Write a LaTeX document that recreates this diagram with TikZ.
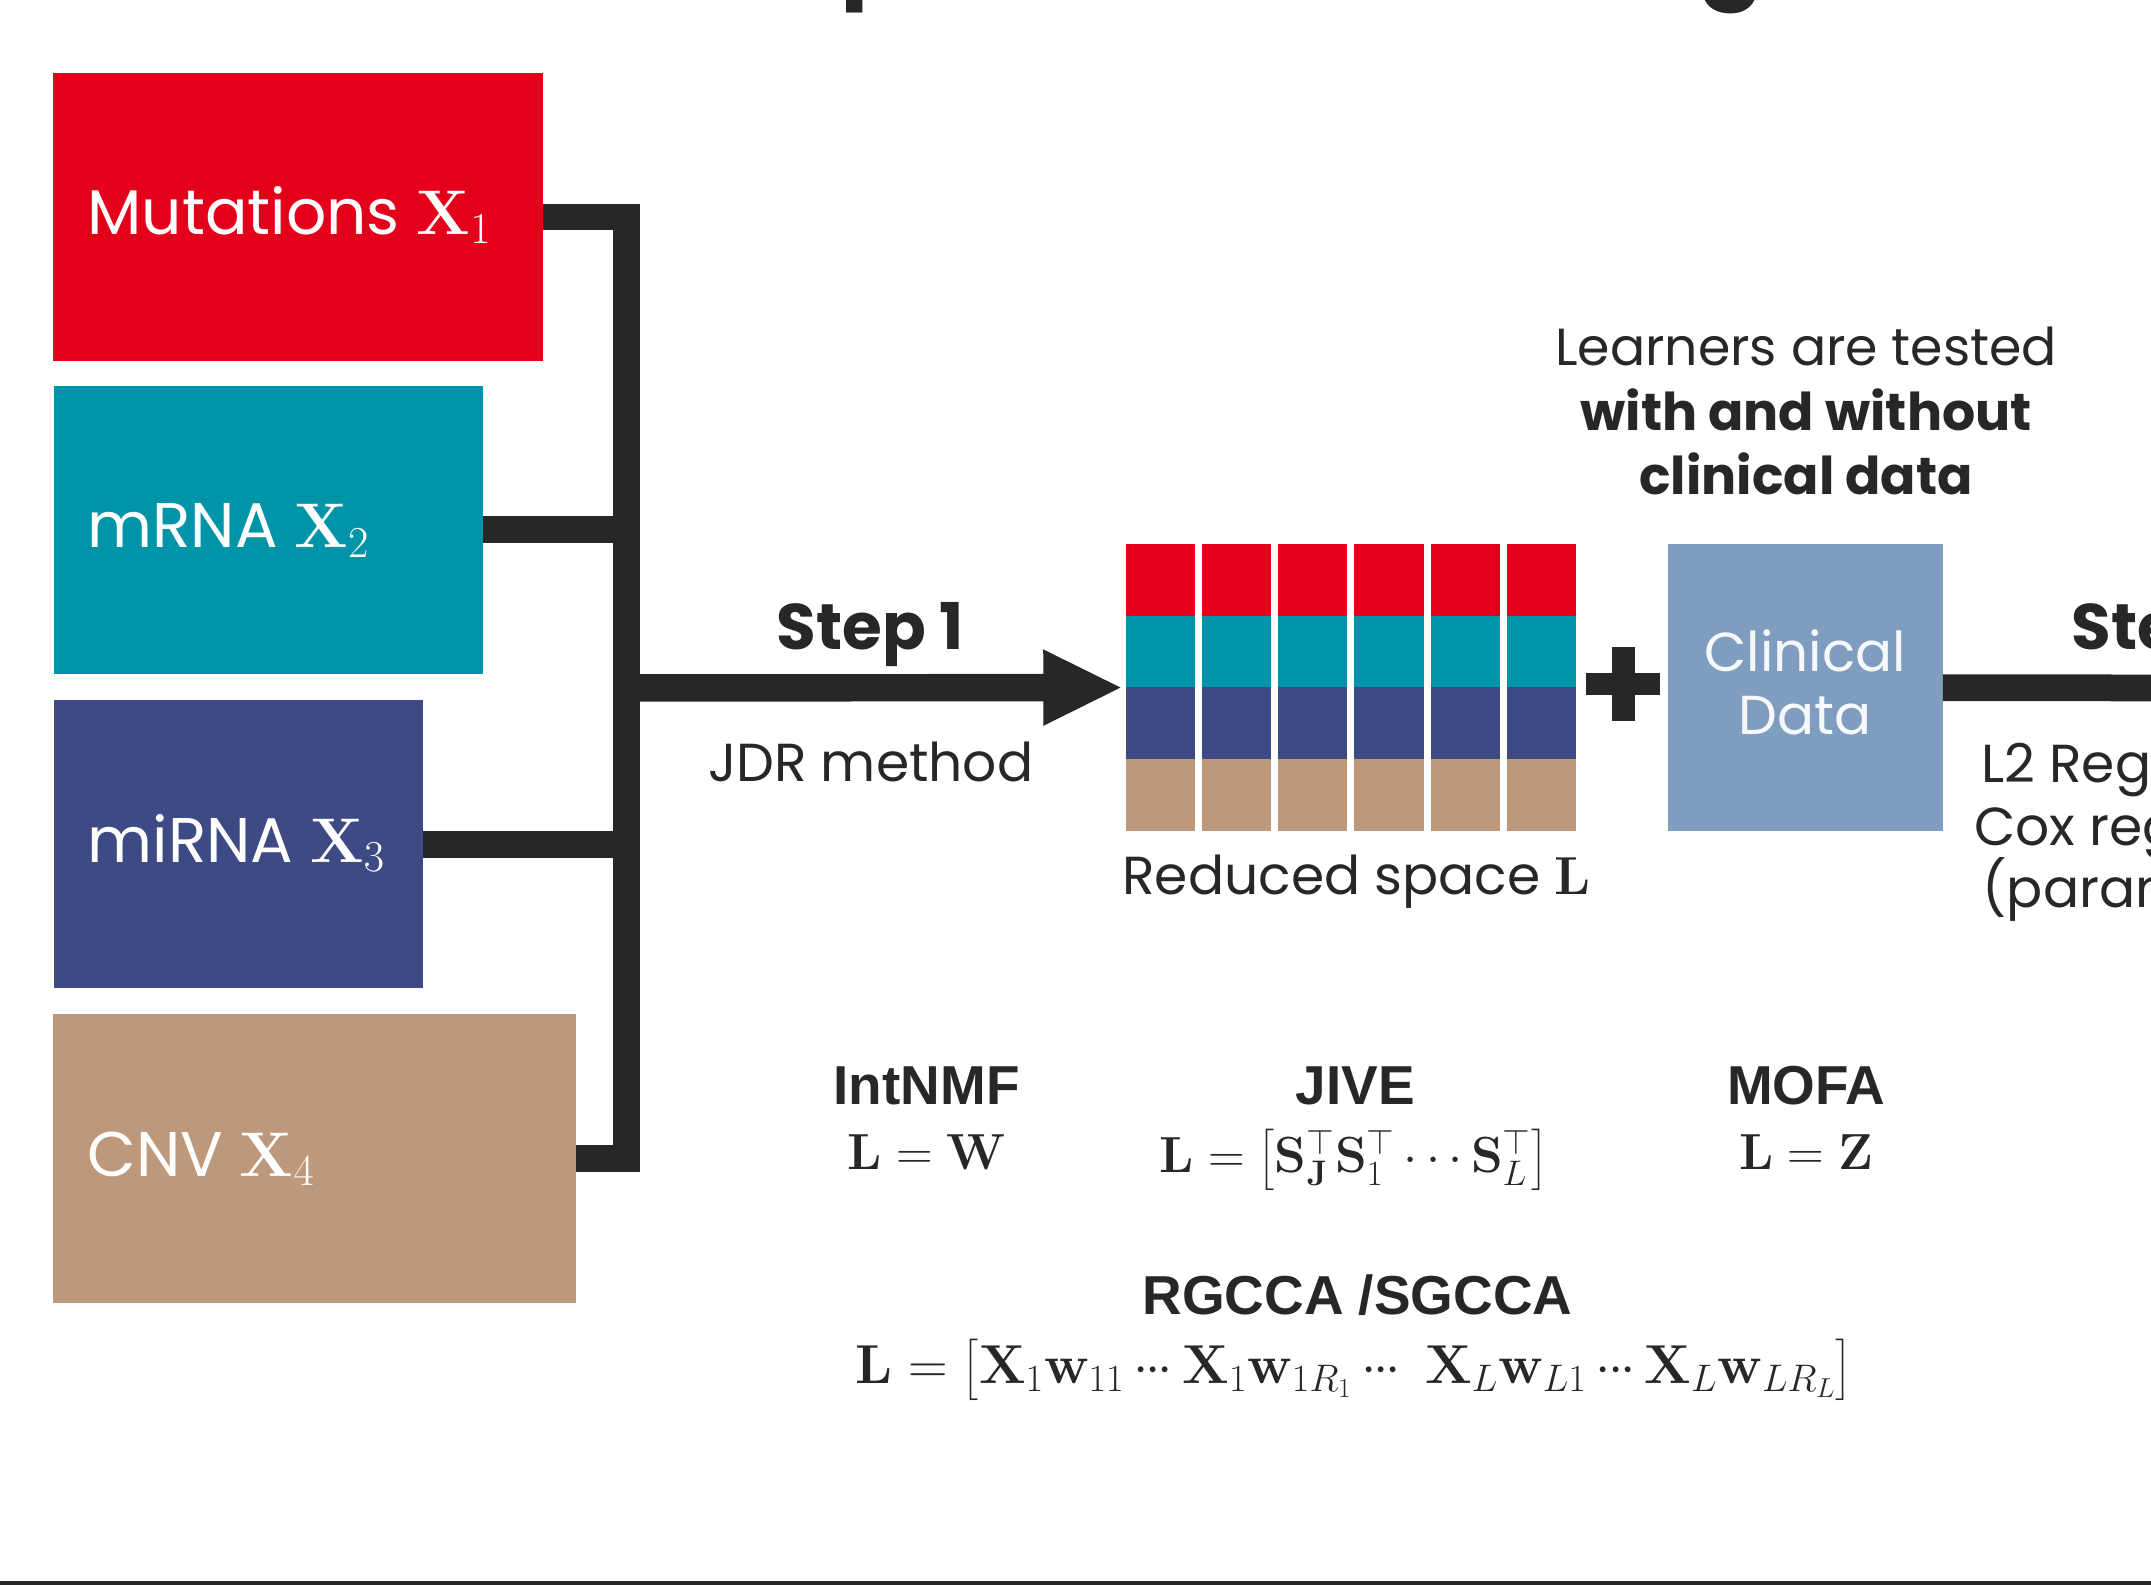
\RequirePackage{fix-cm}
\documentclass[tikz,border=0pt]{standalone}
\usepackage{amsmath}
\usepackage[no-math]{fontspec}
\setmainfont{Poppins}
\newfontfamily\headfont{Liberation Sans}
\usetikzlibrary{arrows.meta,calc}

\definecolor{omred}{HTML}{E4001B}
\definecolor{omteal}{HTML}{0094A8}
\definecolor{omnavy}{HTML}{3E4A84}
\definecolor{omtan}{HTML}{BD987A}
\definecolor{clin}{HTML}{7F9DBF}
\definecolor{clintext}{HTML}{F6F8FB}
\definecolor{ink}{HTML}{272727}

% compact centred dots
\newcommand\tdots{\mathinner{{\cdot}\mkern-1mu{\cdot}\mkern-1mu{\cdot}}}

\tikzset{
  omics/.style={rectangle, inner sep=0pt, draw=none},
  boxlabel/.style={anchor=base west, inner sep=0pt, text=white, font=\fontsize{46}{55}\selectfont},
  heavy/.style={draw=ink, line width=19.5pt},
  plain/.style={inner sep=0pt, text=ink, font=\fontsize{39}{47}\selectfont},
  steplabel/.style={inner sep=0pt, text=ink, font=\bfseries\fontsize{47}{56}\selectfont},
  method/.style={anchor=base, inner sep=0pt, text=ink, font=\headfont\bfseries\fontsize{40}{48}\selectfont},
  formula/.style={anchor=base, inner sep=0pt, text=ink, font=\fontsize{37}{44}\selectfont},
  titlefrag/.style={anchor=base west, inner sep=0pt, text=ink, font=\bfseries\fontsize{70}{80}\selectfont},
}

\begin{document}
\begin{tikzpicture}[x=1pt,y=-1pt]
\useasboundingbox (0,0) rectangle (1568,1155);
\clip (0,0) rectangle (1568,1155);

% descenders of the heading line above
\node[titlefrag] (tp) at (612.6,-9) {p};
\node[titlefrag] (tg) at (1237.7,-9) {g};

% omics blocks
\node[omics, fill=omred,  minimum width=357pt,   minimum height=210.2pt] (mut)   at (217.4,158.1) {};
\node[omics, fill=omteal, minimum width=313.2pt, minimum height=209.6pt] (mrna)  at (195.6,386.2) {};
\node[omics, fill=omnavy, minimum width=269.4pt, minimum height=209.6pt] (mirna) at (173.7,615.4) {};
\node[omics, fill=omtan,  minimum width=380.8pt, minimum height=210.6pt] (cnv)   at (229.3,844.7) {};

\node[boxlabel] (mutl)   at ($(mut.west)+(24.8,12.6)$)   {Mutations $\mathbf{X}_1$};
\node[boxlabel] (mrnal)  at ($(mrna.west)+(24.8,13.2)$)  {mRNA $\mathbf{X}_2$};
\node[boxlabel] (mirnal) at ($(mirna.west)+(24.8,13.2)$) {miRNA $\mathbf{X}_3$};
\node[boxlabel] (cnvl)   at ($(cnv.west)+(24.8,12.6)$)   {CNV $\mathbf{X}_4$};

% bracket joining the blocks
\coordinate (jx) at (456.7,501.5);
\draw[heavy] (mut.east) -| (cnv.east -| jx) -- (cnv.east);
\draw[heavy] (mrna.east) -- (mrna.east -| jx);
\draw[heavy] (mirna.east) -- (mirna.east -| jx);

% reduced space L
\node[omics, minimum width=328pt, minimum height=209.2pt] (lsp) at (985,501.2) {};
\foreach \c in {0,...,5}{
  \foreach \r/\col in {0/omred,1/omteal,2/omnavy,3/omtan}{
    \fill[\col] ($(lsp.north west)+(\c*55.52,\r*52.3)$) rectangle ++(50.4,52.3);
  }
}
\node[plain, anchor=base] (rsl) at (989,652) {Reduced space $\mathbf{L}$};

% step 1
\draw[heavy, line width=20pt, -{Triangle[length=58pt 0 0, width=51pt 0 0]}, shorten >=2.3pt] (jx) -- (lsp.west);
\node[steplabel, anchor=base] (s1) at (634.5,473.8) {Step 1};
\node[plain, anchor=base] (jdr) at (634.7,569.8) {JDR method};

% plus sign
\fill[ink] (1174.9,471.4) rectangle (1191.9,525.4);
\fill[ink] (1156.4,490.4) rectangle (1210.1,506.4);

% clinical data
\node[omics, fill=clin, minimum width=200pt, minimum height=209.2pt] (clin) at (1316,501.3) {};
\node[plain, font=\fontsize{40}{45.5}\selectfont, text=clintext, align=center] (clint) at ($(clin.center)+(0,-4)$) {Clinical\\Data};

\node[plain, font=\fontsize{38}{47}\selectfont, align=center, anchor=base] (learn) at (1316.6,360.8)
  {Learners are tested\\\textbf{with and without}\\\textbf{clinical data}};

% step 2
\coordinate (s2end) at (1600,501.5);
\draw[heavy] (clin.east) -- (s2end);
\node[steplabel, anchor=base west] (s2) at (1510,473.8) {Step 2};
\node[plain, anchor=base west] (l2a) at (1444,570.5) {L2 Regularized};
\node[plain, anchor=base west] (l2b) at (1439,616.5) {Cox regression};
\node[plain, anchor=base west] (l2c) at (1445,661.5) {(parametric)};

% JDR methods
\node[method] (intnmf) at (675.5,804.8) {IntNMF};
\node[formula] (fint) at (676,852.4) {$\mathbf{L}=\mathbf{W}$};
\node[method] (jive) at (988,804.8) {JIVE};
\node[formula] (fjive) at (986.7,854.8) {$\mathbf{L}=\bigl[\mathbf{S}_{\mathbf{J}}^{\top}\mathbf{S}_{1}^{\top}\cdots\mathbf{S}_{L}^{\top}\bigr]$};
\node[method] (mofa) at (1316.7,804.8) {MOFA};
\node[formula] (fmofa) at (1316.5,852.4) {$\mathbf{L}=\mathbf{Z}$};
\node[method] (rg) at (989.5,957.9) {RGCCA /SGCCA};
\node[formula, font=\fontsize{40}{48}\selectfont] (frg) at (987,1008.4)
  {$\mathbf{L}=\bigl[\mathbf{X}_1\mathbf{w}_{11}\tdots\mathbf{X}_1\mathbf{w}_{1R_1}\tdots\;\mathbf{X}_L\mathbf{w}_{L1}\tdots\mathbf{X}_L\mathbf{w}_{LR_L}\bigr]$};

% bottom rule
\coordinate (ruleL) at (0,1154);
\coordinate (ruleR) at (1568,1154);
\draw[ink, line width=2.8pt] (ruleL) -- (ruleR);
\end{tikzpicture}
\end{document}
